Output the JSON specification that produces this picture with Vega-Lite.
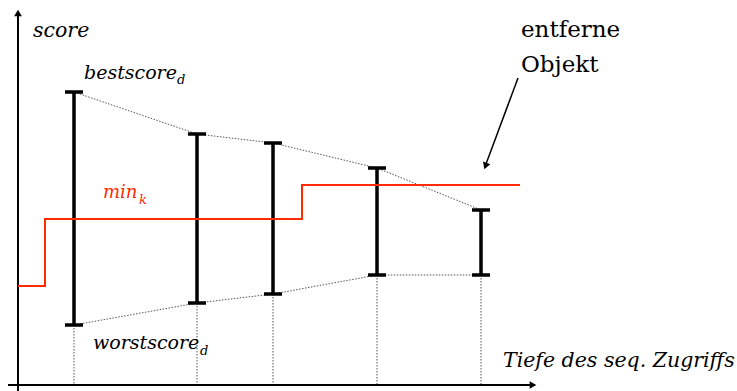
{
  "$schema": "https://vega.github.io/schema/vega-lite/v6.json",
  "width": 737,
  "height": 391,
  "padding": 0,
  "autosize": {"type": "none"},
  "background": "white",
  "config": {"view": {"stroke": null}, "text": {"font": "DejaVu Serif"}},
  "datasets": {
    "bars": [
      {"depth": 74, "best": 299, "worst": 66},
      {"depth": 197, "best": 257, "worst": 88},
      {"depth": 273, "best": 248, "worst": 97},
      {"depth": 377, "best": 223, "worst": 116},
      {"depth": 481, "best": 181, "worst": 116}
    ],
    "mink": [
      {"depth": 18, "min": 105},
      {"depth": 45, "min": 172},
      {"depth": 302, "min": 206},
      {"depth": 520, "min": 206}
    ],
    "axes": [
      {"name": "score", "x": 18, "x2": 18, "y": 0, "y2": 376},
      {"name": "depth", "x": 8, "x2": 532, "y": 6, "y2": 6}
    ],
    "pointer": [{"x": 518, "y": 313, "x2": 486, "y2": 227}],
    "italicMid": [
      {"text": "score", "x": 33, "y": 354},
      {"text": "Tiefe des seq. Zugriffs", "x": 503, "y": 24}
    ],
    "italic": [
      {"text": "bestscore", "x": 84, "y": 312},
      {"text": "worstscore", "x": 93, "y": 42}
    ],
    "sub": [
      {"text": "d", "x": 177, "y": 307},
      {"text": "d", "x": 200, "y": 36}
    ],
    "plain": [
      {"text": "entferne", "x": 521, "y": 354},
      {"text": "Objekt", "x": 521, "y": 319}
    ]
  },
  "layer": [
    {
      "data": {"name": "bars"},
      "transform": [{"fold": ["best", "worst"], "as": ["bound", "score"]}],
      "mark": {"type": "line", "stroke": "#555555", "strokeWidth": 1, "strokeDash": [1.5, 1.5]},
      "encoding": {
        "x": {"field": "depth", "type": "quantitative", "scale": {"domain": [0, 737], "nice": false, "zero": false}, "axis": null},
        "y": {"field": "score", "type": "quantitative", "scale": {"domain": [0, 391], "nice": false, "zero": false}, "axis": null},
        "detail": {"field": "bound"}
      }
    },
    {
      "data": {"name": "bars"},
      "mark": {"type": "rule", "stroke": "#555555", "strokeWidth": 1, "strokeDash": [1.5, 1.5]},
      "encoding": {
        "x": {"field": "depth", "type": "quantitative", "scale": {"domain": [0, 737], "nice": false, "zero": false}, "axis": null},
        "y": {"field": "worst", "type": "quantitative", "scale": {"domain": [0, 391], "nice": false, "zero": false}, "axis": null},
        "y2": {"datum": 6}
      }
    },
    {
      "data": {"name": "axes"},
      "mark": {"type": "rule", "stroke": "black", "strokeWidth": 2},
      "encoding": {
        "x": {"field": "x", "type": "quantitative", "scale": {"domain": [0, 737], "nice": false, "zero": false}, "axis": null},
        "x2": {"field": "x2"},
        "y": {"field": "y", "type": "quantitative", "scale": {"domain": [0, 391], "nice": false, "zero": false}, "axis": null},
        "y2": {"field": "y2"}
      }
    },
    {
      "data": {"values": [{"x": 18, "y": 378}]},
      "mark": {"type": "point", "shape": "triangle-up", "filled": true, "color": "black", "size": 60, "opacity": 1},
      "encoding": {
        "x": {"field": "x", "type": "quantitative", "scale": {"domain": [0, 737], "nice": false, "zero": false}, "axis": null},
        "y": {"field": "y", "type": "quantitative", "scale": {"domain": [0, 391], "nice": false, "zero": false}, "axis": null}
      }
    },
    {
      "data": {"values": [{"x": 533, "y": 6}]},
      "mark": {"type": "point", "shape": "triangle-right", "filled": true, "color": "black", "size": 60, "opacity": 1},
      "encoding": {
        "x": {"field": "x", "type": "quantitative", "scale": {"domain": [0, 737], "nice": false, "zero": false}, "axis": null},
        "y": {"field": "y", "type": "quantitative", "scale": {"domain": [0, 391], "nice": false, "zero": false}, "axis": null}
      }
    },
    {
      "data": {"name": "bars"},
      "mark": {"type": "rule", "stroke": "black", "strokeWidth": 3.5},
      "encoding": {
        "x": {"field": "depth", "type": "quantitative", "scale": {"domain": [0, 737], "nice": false, "zero": false}, "axis": null},
        "y": {"field": "worst", "type": "quantitative", "scale": {"domain": [0, 391], "nice": false, "zero": false}, "axis": null},
        "y2": {"field": "best"}
      }
    },
    {
      "data": {"name": "bars"},
      "transform": [{"fold": ["best", "worst"], "as": ["bound", "score"]}],
      "mark": {"type": "point", "shape": "M-1,0L1,0", "filled": false, "stroke": "black", "strokeWidth": 3.5, "size": 324, "opacity": 1},
      "encoding": {
        "x": {"field": "depth", "type": "quantitative", "scale": {"domain": [0, 737], "nice": false, "zero": false}, "axis": null},
        "y": {"field": "score", "type": "quantitative", "scale": {"domain": [0, 391], "nice": false, "zero": false}, "axis": null}
      }
    },
    {
      "data": {"name": "mink"},
      "mark": {"type": "line", "interpolate": "step-after", "stroke": "#ff2a00", "strokeWidth": 2},
      "encoding": {
        "x": {"field": "depth", "type": "quantitative", "scale": {"domain": [0, 737], "nice": false, "zero": false}, "axis": null},
        "y": {"field": "min", "type": "quantitative", "scale": {"domain": [0, 391], "nice": false, "zero": false}, "axis": null}
      }
    },
    {
      "data": {"name": "pointer"},
      "mark": {"type": "rule", "stroke": "black", "strokeWidth": 1.5},
      "encoding": {
        "x": {"field": "x", "type": "quantitative", "scale": {"domain": [0, 737], "nice": false, "zero": false}, "axis": null},
        "x2": {"field": "x2"},
        "y": {"field": "y", "type": "quantitative", "scale": {"domain": [0, 391], "nice": false, "zero": false}, "axis": null},
        "y2": {"field": "y2"}
      }
    },
    {
      "data": {"values": [{"x": 485.5, "y": 225}]},
      "mark": {"type": "point", "shape": "triangle-down", "angle": 20, "filled": true, "color": "black", "size": 60, "opacity": 1},
      "encoding": {
        "x": {"field": "x", "type": "quantitative", "scale": {"domain": [0, 737], "nice": false, "zero": false}, "axis": null},
        "y": {"field": "y", "type": "quantitative", "scale": {"domain": [0, 391], "nice": false, "zero": false}, "axis": null}
      }
    },
    {
      "data": {"name": "italicMid"},
      "mark": {"type": "text", "fontStyle": "italic", "fontSize": 20.5, "align": "left", "baseline": "alphabetic", "color": "black"},
      "encoding": {
        "x": {"field": "x", "type": "quantitative", "scale": {"domain": [0, 737], "nice": false, "zero": false}, "axis": null},
        "y": {"field": "y", "type": "quantitative", "scale": {"domain": [0, 391], "nice": false, "zero": false}, "axis": null},
        "text": {"field": "text"}
      }
    },
    {
      "data": {"name": "italic"},
      "mark": {"type": "text", "fontStyle": "italic", "fontSize": 19, "align": "left", "baseline": "alphabetic", "color": "black"},
      "encoding": {
        "x": {"field": "x", "type": "quantitative", "scale": {"domain": [0, 737], "nice": false, "zero": false}, "axis": null},
        "y": {"field": "y", "type": "quantitative", "scale": {"domain": [0, 391], "nice": false, "zero": false}, "axis": null},
        "text": {"field": "text"}
      }
    },
    {
      "data": {"name": "sub"},
      "mark": {"type": "text", "fontStyle": "italic", "fontSize": 13, "align": "left", "baseline": "alphabetic", "color": "black"},
      "encoding": {
        "x": {"field": "x", "type": "quantitative", "scale": {"domain": [0, 737], "nice": false, "zero": false}, "axis": null},
        "y": {"field": "y", "type": "quantitative", "scale": {"domain": [0, 391], "nice": false, "zero": false}, "axis": null},
        "text": {"field": "text"}
      }
    },
    {
      "data": {"values": [{"text": "min", "x": 103, "y": 193}]},
      "mark": {"type": "text", "fontStyle": "italic", "fontSize": 18, "align": "left", "baseline": "alphabetic", "color": "#ff2a00"},
      "encoding": {
        "x": {"field": "x", "type": "quantitative", "scale": {"domain": [0, 737], "nice": false, "zero": false}, "axis": null},
        "y": {"field": "y", "type": "quantitative", "scale": {"domain": [0, 391], "nice": false, "zero": false}, "axis": null},
        "text": {"field": "text"}
      }
    },
    {
      "data": {"values": [{"text": "k", "x": 139, "y": 187}]},
      "mark": {"type": "text", "fontStyle": "italic", "fontSize": 13, "align": "left", "baseline": "alphabetic", "color": "#ff2a00"},
      "encoding": {
        "x": {"field": "x", "type": "quantitative", "scale": {"domain": [0, 737], "nice": false, "zero": false}, "axis": null},
        "y": {"field": "y", "type": "quantitative", "scale": {"domain": [0, 391], "nice": false, "zero": false}, "axis": null},
        "text": {"field": "text"}
      }
    },
    {
      "data": {"name": "plain"},
      "mark": {"type": "text", "fontSize": 23, "align": "left", "baseline": "alphabetic", "color": "black"},
      "encoding": {
        "x": {"field": "x", "type": "quantitative", "scale": {"domain": [0, 737], "nice": false, "zero": false}, "axis": null},
        "y": {"field": "y", "type": "quantitative", "scale": {"domain": [0, 391], "nice": false, "zero": false}, "axis": null},
        "text": {"field": "text"}
      }
    }
  ]
}
